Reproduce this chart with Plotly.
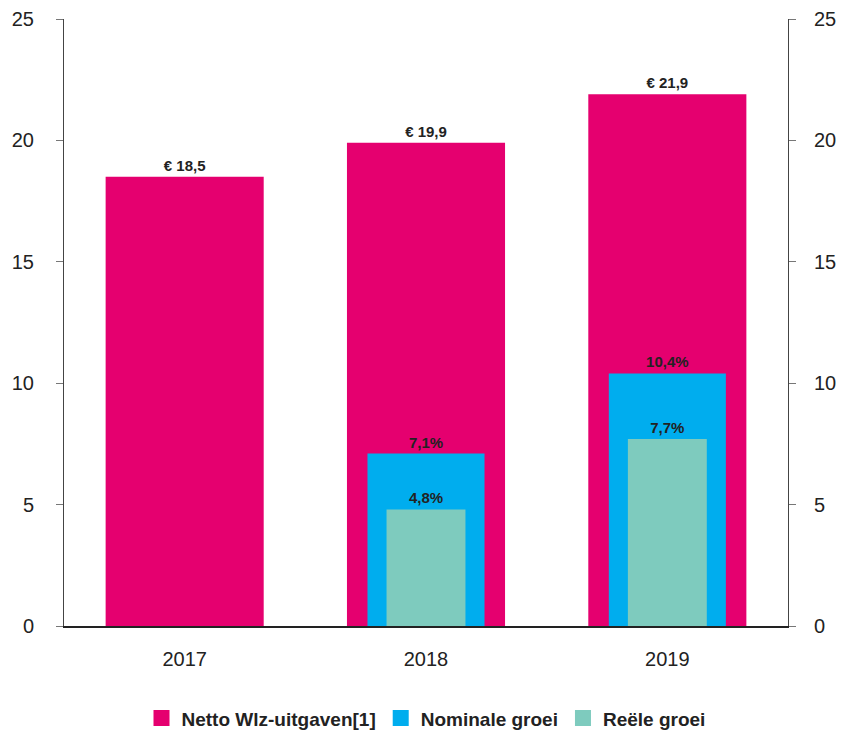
import plotly.graph_objects as go

years = ["2017", "2018", "2019"]
netto = [18.5, 19.9, 21.9]
nominaal = [None, 7.1, 10.4]
reeel = [None, 4.8, 7.7]
series_names = ["Netto Wlz-uitgaven[1]", "Nominale groei", "Reële groei"]
y_ticks = [0, 5, 10, 15, 20, 25]

def fmt_euro(v):
    return f"€ {v:.1f}".replace(".", ",")

def fmt_pct(v):
    return "" if v is None else f"{v:.1f}%".replace(".", ",")

PINK = "#E5006F"
BLUE = "#00ADEE"
TEAL = "#7ECBBE"
FONT = "Liberation Sans, Arial, sans-serif"
lbl_font = dict(family=FONT, size=15, color="#222222", weight="bold")

fig = go.Figure()
for vals, name, color, w, txt in [
    (netto, series_names[0], PINK, 0.655, [fmt_euro(v) for v in netto]),
    (nominaal, series_names[1], BLUE, 0.485, [fmt_pct(v) for v in nominaal]),
    (reeel, series_names[2], TEAL, 0.327, [fmt_pct(v) for v in reeel]),
]:
    fig.add_trace(go.Bar(x=years, y=vals, name=name, marker_color=color,
                         marker_line_width=0, width=w, text=txt,
                         textposition="outside", textfont=lbl_font,
                         cliponaxis=False, showlegend=False))
    # legend proxy with square marker
    fig.add_trace(go.Scatter(x=[None], y=[None], mode="markers", name=name,
                             marker=dict(symbol="square", size=18, color=color),
                             showlegend=True))

# invisible trace to activate right axis
fig.add_trace(go.Scatter(x=years, y=[0, 0, 0], yaxis="y2", mode="markers",
                         marker=dict(opacity=0), showlegend=False, hoverinfo="skip"))

axis_common = dict(range=[0, 25], tickvals=y_ticks, showgrid=False, zeroline=False,
                   showline=True, linecolor="#444444", linewidth=1,
                   ticks="outside", ticklen=7, tickcolor="#777777",
                   tickfont=dict(family=FONT, size=20, color="#222222"),
                   automargin=False)

# page body adds an 8px offset, so the figure is sized to fit the window
fig.update_layout(
    barmode="overlay",
    width=837, height=723,
    margin=dict(l=56, r=57, t=11, b=105, autoexpand=False),
    plot_bgcolor="white", paper_bgcolor="white",
    showlegend=True,
    legend=dict(orientation="h", x=0.5, xanchor="center", y=-0.152, yanchor="middle",
                font=dict(family=FONT, size=19, color="#222222", weight="bold"),
                itemwidth=30, traceorder="normal", itemsizing="trace"),
    xaxis=dict(showgrid=False, showline=True, linecolor="#222222", linewidth=1.5,
               ticks="", tickfont=dict(family=FONT, size=20, color="#222222"),
               ticklabelstandoff=14, automargin=False),
    yaxis=dict(**axis_common, side="left", ticklabelstandoff=18),
    yaxis2=dict(**axis_common, side="right", overlaying="y", anchor="x",
                ticklabelstandoff=14),
)

fig.write_html("out.html")
